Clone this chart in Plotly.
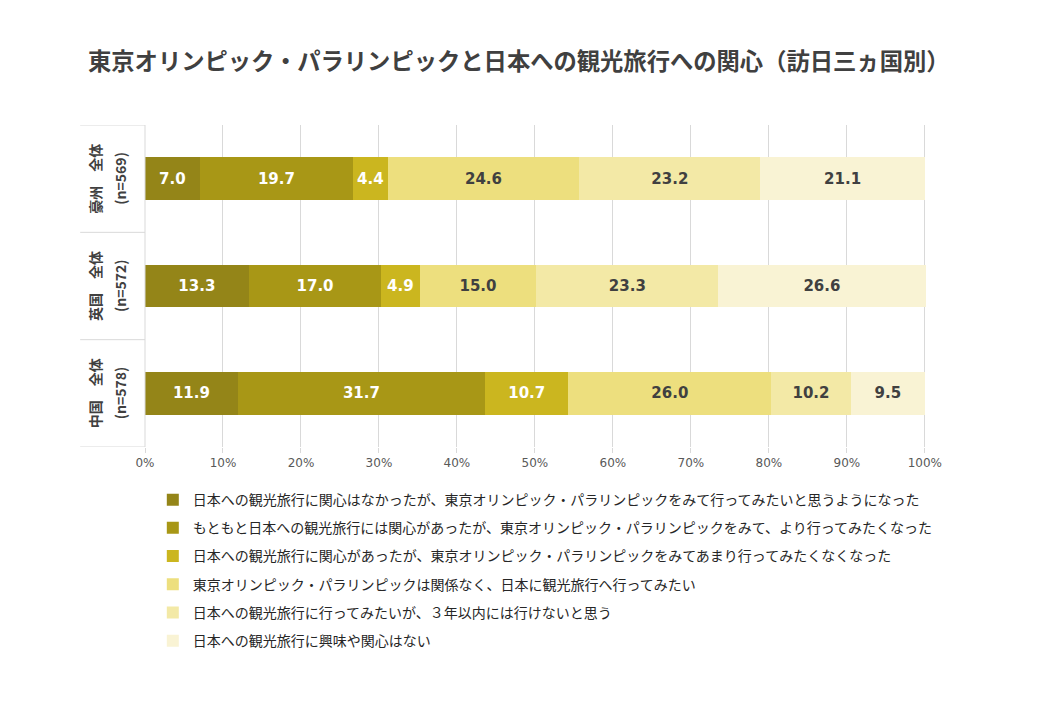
import plotly.graph_objects as go

categories = ["豪州　全体", "英国　全体", "中国　全体"]
sample_sizes = ["(n=569)", "(n=572)", "(n=578)"]

series_names = [
    "日本への観光旅行に関心はなかったが、東京オリンピック・パラリンピックをみて行ってみたいと思うようになった",
    "もともと日本への観光旅行には関心があったが、東京オリンピック・パラリンピックをみて、より行ってみたくなった",
    "日本への観光旅行に関心があったが、東京オリンピック・パラリンピックをみてあまり行ってみたくなくなった",
    "東京オリンピック・パラリンピックは関係なく、日本に観光旅行へ行ってみたい",
    "日本への観光旅行に行ってみたいが、３年以内には行けないと思う",
    "日本への観光旅行に興味や関心はない",
]
values = [
    [7.0, 13.3, 11.9],
    [19.7, 17.0, 31.7],
    [4.4, 4.9, 10.7],
    [24.6, 15.0, 26.0],
    [23.2, 23.3, 10.2],
    [21.1, 26.6, 9.5],
]
colors = ["#948518", "#A89716", "#CBB61F", "#EDDF7E", "#F3E9A6", "#F9F3D4"]
text_colors = ["white", "white", "white", "#404040", "#404040", "#404040"]

FONT = "Noto Sans CJK JP"
NUMFONT = "DejaVu Sans"

fig = go.Figure()
for i, (name, vals, col, tc) in enumerate(zip(series_names, values, colors, text_colors)):
    fig.add_trace(go.Bar(
        y=categories, x=vals, name=name, orientation="h",
        legendgroup=f"g{i}",
        marker=dict(color=col, line=dict(width=0)),
        text=[f"{v:.1f}" for v in vals], textposition="inside",
        insidetextanchor="middle",
        textfont=dict(color=tc, size=15, family=NUMFONT, weight="bold"),
        cliponaxis=False,
    ))

# rotated category labels
for cat, n in zip(categories, sample_sizes):
    fig.add_annotation(x=-0.064, xref="paper", xanchor="center", y=cat, yref="y",
                       text=cat, textangle=-90, showarrow=False,
                       font=dict(size=14, family=FONT, color="#404040", weight="bold"))
    fig.add_annotation(x=-0.032, xref="paper", xanchor="center", y=cat, yref="y",
                       text=n, textangle=-90, showarrow=False,
                       font=dict(size=14, family=FONT, color="#404040", weight="bold"))

# category separators on the left
for yb in [-0.5, 0.5, 1.5, 2.5]:
    fig.add_shape(type="line", xref="paper", yref="y", x0=-0.083, x1=0,
                  y0=yb, y1=yb, line=dict(color="#D9D9D9", width=1))
fig.add_shape(type="line", xref="paper", yref="y", x0=0, x1=0,
              y0=-0.5, y1=2.5, line=dict(color="#D9D9D9", width=1))

fig.update_layout(
    barmode="stack",
    bargap=0.6,
    width=1040, height=720,
    paper_bgcolor="white", plot_bgcolor="white",
    margin=dict(l=137, r=122, t=117, b=281),
    uniformtext=dict(minsize=15, mode="show"),
    title=dict(text="<b>東京オリンピック・パラリンピックと日本への観光旅行への関心（訪日三ヵ国別）</b>",
               x=80 / 1040, xanchor="left", y=1 - 54 / 720, yanchor="middle",
               font=dict(size=23.3, family=FONT, color="#404040")),
    xaxis=dict(range=[0, 100.15], tickvals=list(range(0, 101, 10)),
               ticktext=[f"{v}%" for v in range(0, 101, 10)], showgrid=True,
               gridcolor="#D9D9D9", zeroline=False,
               ticks="outside", ticklen=5, tickcolor="#D9D9D9",
               tickfont=dict(size=12, family=NUMFONT, color="#595959"),
               showline=False, fixedrange=True),
    yaxis=dict(categoryorder="array", categoryarray=categories[::-1],
               showticklabels=False, showgrid=False, range=[-0.5, 2.5]),
    legend=dict(orientation="v", x=0.01, xanchor="left", y=-0.115, yanchor="top",
                traceorder="grouped",
                font=dict(size=14, family=FONT, color="#262626"),
                itemwidth=30, tracegroupgap=7),
    font=dict(family=FONT),
    showlegend=True,
)

fig.write_html("out.html")
